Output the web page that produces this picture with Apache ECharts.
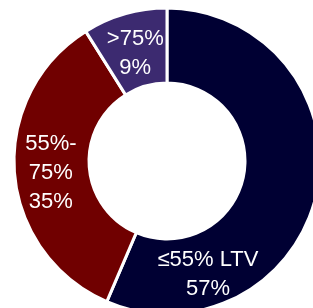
<!DOCTYPE html>
<html lang="en">
<head>
    <meta charset="utf-8">
    <title>LTV</title>
    <script src="https://cdn.jsdelivr.net/npm/echarts@6/dist/echarts.min.js"></script>
    <style>
        html, body { margin: 0; padding: 0; background: #fff; }
        #chart { width: 313px; height: 308px; }
    </style>
</head>
<body>
    <div id="chart"></div>
    <script>
        // categories and shares (%)
        var categories = ['≤55% LTV', '55%-\n75%', '>75%'];
        var shares = [57, 35, 9];
        var colors = ['#000033', '#700000', '#3c2a70'];

        var chart = echarts.init(document.getElementById('chart'), null, { renderer: 'canvas' });

        var data = [];
        for (var i = 0; i < categories.length; i++) {
            data.push({ name: categories[i], value: shares[i], itemStyle: { color: colors[i] } });
        }

        var option = {
            animation: false,
            series: [{
                type: 'pie',
                center: [167, 161],
                radius: [78, 153],
                startAngle: 90,
                clockwise: true,
                silent: true,
                itemStyle: { borderColor: '#fff', borderWidth: 3 },
                label: {
                    show: true,
                    position: 'inside',
                    color: '#fff',
                    fontFamily: 'Liberation Sans, Arial, sans-serif',
                    fontSize: 22,
                    lineHeight: 29,
                    formatter: '{b}\n{c}%'
                },
                labelLine: { show: false },
                labelLayout: function (params) {
                    // label spots as in the original slide
                    if (params.dataIndex === 0) {
                        return { x: 208, y: 274, align: 'center', verticalAlign: 'middle' };
                    }
                    if (params.dataIndex === 1) {
                        return { dx: 2, dy: 3 };
                    }
                    return { dx: 1, dy: 6 };
                },
                data: data
            }]
        };
        chart.setOption(option);
    </script>
</body>
</html>
